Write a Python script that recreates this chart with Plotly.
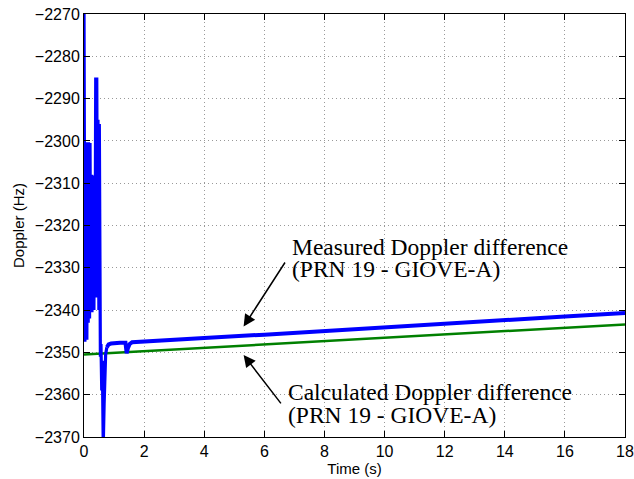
import plotly.graph_objects as go

# Measured Doppler difference: transient part (s, Hz)
t_trans = [0.000, 0.012, 0.020, 0.030, 0.040, 0.050, 0.060, 0.070, 0.080, 0.095,
           0.110, 0.120, 0.130, 0.140, 0.150, 0.160, 0.175, 0.185, 0.200, 0.210,
           0.225, 0.240, 0.255, 0.265, 0.280, 0.290, 0.305, 0.315, 0.330, 0.345,
           0.360, 0.375, 0.390, 0.400, 0.410, 0.425, 0.440, 0.450, 0.465, 0.480,
           0.495, 0.510, 0.525, 0.545, 0.565, 0.590, 0.610, 0.640, 0.670, 0.690,
           0.720, 0.760]
d_trans = [-2268, -2347, -2312, -2347.5, -2318, -2346, -2312, -2347, -2320, -2347,
           -2300.3, -2340, -2310, -2343, -2300.3, -2335, -2315, -2342, -2300.5, -2330,
           -2340.5, -2318, -2308, -2340.5, -2315, -2340, -2308.2, -2332, -2340, -2312,
           -2337, -2318, -2285, -2330, -2336.5, -2285, -2325, -2337, -2295, -2320,
           -2340, -2296, -2330, -2351, -2348, -2359, -2352, -2372, -2362, -2355,
           -2350.5, -2348.8]

# Measured Doppler difference: steady part
t_steady = [0.76, 0.82, 0.90, 1.00, 1.20, 1.38, 1.42, 1.46, 1.52, 1.60,
            2.0, 4.0, 6.0, 8.0, 10.0, 12.0, 14.0, 16.0, 18.0]
d_steady = [-2348.8, -2348.1, -2347.9, -2347.8, -2347.7, -2347.7, -2350.2, -2349.0, -2348.0, -2347.6,
            -2347.4, -2346.6, -2345.8, -2344.9, -2344.1, -2343.2, -2342.4, -2341.5, -2340.7]

# Calculated Doppler difference
t_calc = [0, 3, 6, 9, 12, 15, 18]
d_calc = [-2350.5, -2349.3, -2348.1, -2346.9, -2345.8, -2344.6, -2343.4]

x_ticks = [0, 2, 4, 6, 8, 10, 12, 14, 16, 18]

fig = go.Figure()
fig.add_trace(go.Scatter(x=t_calc, y=d_calc, mode="lines",
                         line=dict(color="rgb(0,128,0)", width=2.5), showlegend=False))
fig.add_trace(go.Scatter(x=t_trans, y=d_trans, mode="lines",
                         line=dict(color="rgb(0,0,255)", width=3.2), showlegend=False))
fig.add_trace(go.Scatter(x=t_steady, y=d_steady, mode="lines",
                         line=dict(color="rgb(0,0,255)", width=4), showlegend=False))

serif = dict(family="Liberation Serif", size=23.5, color="black")
texts = [
    ("Measured Doppler difference", 6.90, -2324.97),
    ("(PRN 19 - GIOVE-A)", 6.90, -2330.26),
    ("Calculated Doppler difference", 6.77, -2359.42),
    ("(PRN 19 - GIOVE-A)", 6.77, -2364.71),
]
for txt, x, y in texts:
    fig.add_annotation(x=x, y=y, xref="x", yref="y", text=txt, showarrow=False,
                       xanchor="left", yanchor="middle", font=serif, borderpad=0)

arrows = [((5.31, -2343.9), (6.72, -2328.4)),
          ((5.31, -2350.6), (6.59, -2362.4))]
for (hx, hy), (tx, ty) in arrows:
    fig.add_annotation(x=hx, y=hy, ax=tx, ay=ty, xref="x", yref="y", axref="x", ayref="y",
                       text="", showarrow=True, arrowhead=2, arrowsize=1.6,
                       arrowwidth=1.5, arrowcolor="black")

axis_common = dict(showline=True, linecolor="black", linewidth=1, mirror="ticks",
                   ticks="inside", ticklen=6, tickcolor="black",
                   showgrid=True, gridcolor="#999999", griddash="1px,3px", gridwidth=1,
                   zeroline=False, automargin=False,
                   tickfont=dict(family="Liberation Sans", size=16, color="black"))

fig.update_xaxes(range=[0, 18], tickvals=x_ticks,
                 title=dict(text="Time (s)", font=dict(family="Liberation Sans", size=15, color="black"),
                            standoff=0),
                 **axis_common)
fig.update_yaxes(range=[-2370, -2270], dtick=10,
                 title=dict(text="Doppler (Hz)", font=dict(family="Liberation Sans", size=15, color="black"),
                            standoff=6),
                 **axis_common)

fig.update_layout(width=634, height=479, margin=dict(l=84, r=9, t=14, b=42),
                  paper_bgcolor="white", plot_bgcolor="white")

fig.write_html("out.html", config={"displayModeBar": False},
               post_script="document.body.style.margin='0';document.body.style.overflow='hidden';")
